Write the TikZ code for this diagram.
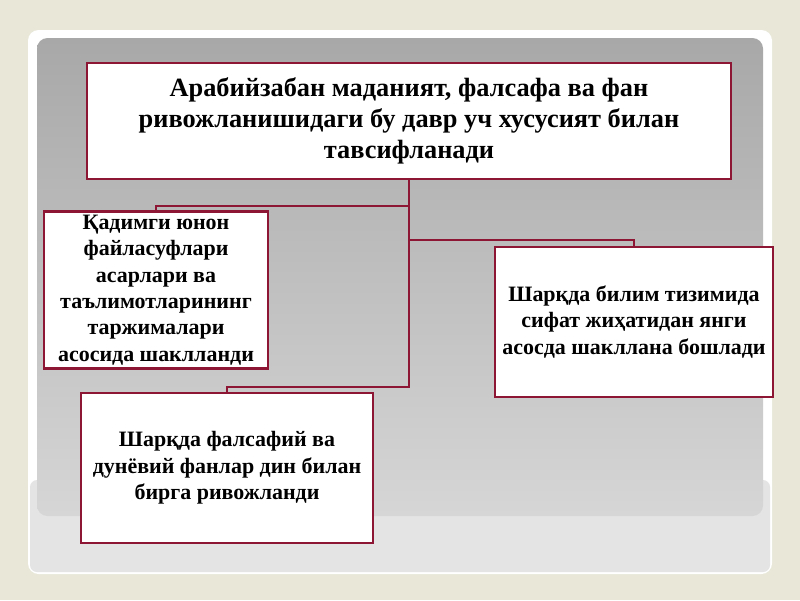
\documentclass[tikz,border=0pt]{standalone}
\usepackage{fontspec}
\setmainfont{Liberation Serif}
\definecolor{boxred}{RGB}{140,22,52}
\definecolor{paper}{RGB}{232,231,216}
\definecolor{slate}{RGB}{168,168,168}
\definecolor{mist}{RGB}{214,214,214}
\definecolor{pale}{RGB}{228,228,228}
\tikzset{
  box/.style={draw=boxred, line width=1.6pt, fill=white, align=center,
    font=\bfseries\fontsize{12.5}{15}\selectfont, inner sep=2pt},
  link/.style={draw=boxred, line width=1.6pt}
}
\begin{document}
\begin{tikzpicture}[x=0.02cm,y=-0.02cm]
  % background
  \fill[paper] (0,0) rectangle (800,600);
  \fill[white, rounded corners=6pt] (28,30) rectangle (772,574);
  \fill[pale, rounded corners=4pt] (30,480) rectangle (770,572);
  \shade[top color=slate, bottom color=mist, rounded corners=6pt]
    (37,38) rectangle (763,516);
  % levels of the elbows
  \coordinate (ya) at (0,206);
  \coordinate (yb) at (0,240);
  \coordinate (yc) at (0,387);
  % boxes
  \node[box, minimum width=12.88cm, minimum height=2.32cm,
    font=\bfseries\fontsize{15}{17.5}\selectfont] (top) at (409,121)
    {Арабийзабан маданият, фалсафа ва фан\\
     ривожланишидаги бу давр уч хусусият билан\\
     тавсифланади};
  \node[box, minimum width=4.48cm, minimum height=3.08cm] (left) at (156,290)
    {Қадимги юнон\\ файласуфлари\\ асарлари ва\\ таълимотларининг\\
     таржималари\\ асосида шаклланди};
  \node[box, minimum width=5.56cm, minimum height=3.0cm] (right) at (634,322)
    {Шарқда билим тизимида\\ сифат жиҳатидан янги\\ асосда шакллана бошлади};
  \node[box, minimum width=5.84cm, minimum height=3.0cm] (bottom) at (227,468)
    {Шарқда фалсафий ва\\ дунёвий фанлар дин билан\\ бирга ривожланди};
  % connectors
  \draw[link] (top.south) -- (top.south |- ya) -| (left.north);
  \draw[link] (top.south) -- (top.south |- yb) -| (right.north);
  \draw[link] (top.south) -- (top.south |- yc) -| (bottom.north);
\end{tikzpicture}
\end{document}
